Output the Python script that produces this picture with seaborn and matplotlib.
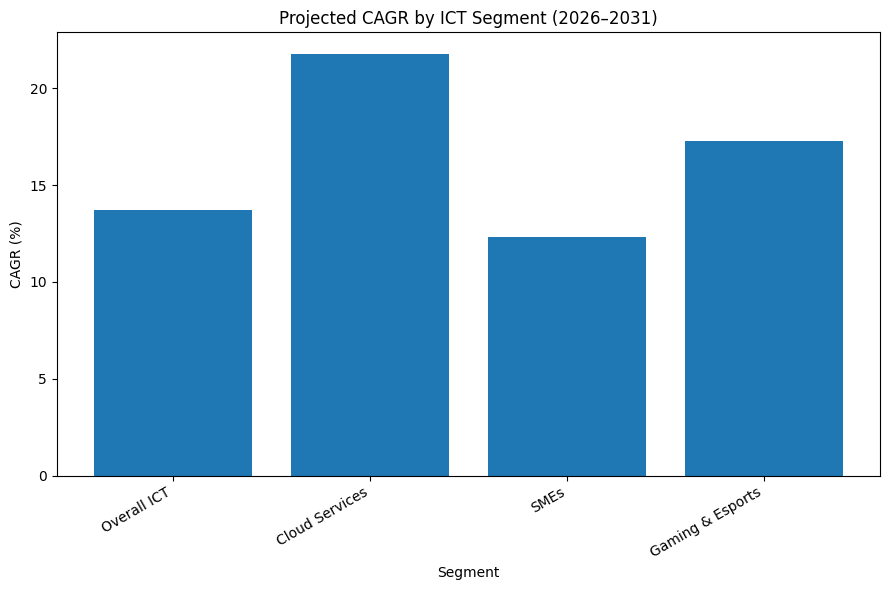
import pandas as pd
import matplotlib
matplotlib.use("Agg")
import matplotlib.pyplot as plt
import seaborn as sns

# values
segments = ["Overall ICT", "Cloud Services", "SMEs", "Gaming & Esports"]
cagr = [13.7, 21.8, 12.3, 17.3]

data = pd.DataFrame({"Segment": segments, "CAGR": cagr})

fig, ax = plt.subplots(figsize=(8.89, 5.9), dpi=100)
sns.barplot(data=data, x="Segment", y="CAGR", color="#1f77b4", saturation=1, width=0.8, ax=ax)
# matplotlib-style margins around the bars
ax.set_xlim(-0.59, len(segments) - 0.41)
ax.set_title("Projected CAGR by ICT Segment (2026\u20132031)")
ax.set_xlabel("Segment")
ax.set_ylabel("CAGR (%)")
plt.setp(ax.get_xticklabels(), rotation=30, ha="right")
fig.subplots_adjust(left=0.064, right=0.99, top=0.945, bottom=0.194)
plt.savefig("out.png", dpi=100)
